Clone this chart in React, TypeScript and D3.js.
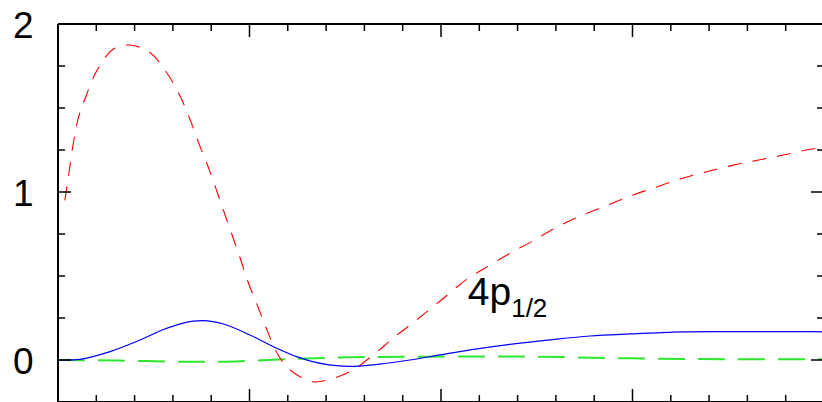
import React from "react";
import * as d3 from "d3";

const redX = [0.18, 0.27, 0.4, 0.53, 0.73, 1.01, 1.44, 1.88, 2.4, 2.84, 3.19, 3.45, 3.71, 3.97, 4.23, 4.49, 4.75, 4.97, 5.23, 5.49, 5.75, 5.97, 6.32, 6.67, 7.02, 7.62, 8.23, 8.75, 9.37, 9.97, 10.67, 11.24, 11.8, 12.41, 13.02, 13.67, 14.33, 14.98, 15.63, 16.28, 16.94, 17.63, 18.29, 18.94, 19.63, 20.0];
const redY = [0.95, 1.09, 1.29, 1.44, 1.57, 1.72, 1.85, 1.875, 1.83, 1.71, 1.57, 1.43, 1.27, 1.12, 0.95, 0.78, 0.61, 0.46, 0.31, 0.16, 0.03, -0.04, -0.1, -0.13, -0.12, -0.07, 0.03, 0.13, 0.24, 0.35, 0.48, 0.56, 0.635, 0.71, 0.79, 0.86, 0.92, 0.98, 1.03, 1.08, 1.12, 1.16, 1.19, 1.22, 1.254, 1.267];

const blueX = [0, 0.57, 1.36, 2.05, 2.74, 3.27, 3.79, 4.32, 5.01, 5.71, 6.23, 6.76, 7.28, 7.62, 8.41, 9.19, 9.97, 10.76, 11.8, 12.85, 13.89, 14.93, 16.3, 17.4, 18.6, 19.7, 20.0];
const blueY = [0, 0.004, 0.05, 0.11, 0.18, 0.22, 0.234, 0.214, 0.149, 0.07, 0.02, -0.016, -0.034, -0.038, -0.024, 0, 0.03, 0.06, 0.093, 0.12, 0.143, 0.155, 0.167, 0.169, 0.169, 0.169, 0.167];

const greenX = [0, 1.5, 3.27, 4.41, 5.88, 7.62, 9.71, 12.32, 14.93, 17.5, 20.0];
const greenY = [0, -0.003, -0.01, -0.01, 0.004, 0.016, 0.02, 0.02, 0.01, 0.005, 0.004];

const yTickLabels = ["0", "1", "2"];
const labelMain = "4p";
const labelSub = "1/2";

const W = 822;
const H = 402;
const FONT = "'Liberation Sans', Arial, Helvetica, sans-serif";

export default function App() {
  const x = d3.scaleLinear().domain([0, 20]).range([58, 824]);
  const y = d3.scaleLinear().domain([-0.25, 2]).range([402, 24]);

  const line = d3
    .line<[number, number]>()
    .x((d) => x(d[0]))
    .y((d) => y(d[1]))
    .curve(d3.curveCatmullRom.alpha(0.5));

  const red = line(redX.map((v, i) => [v, redY[i]] as [number, number])) || "";
  const blue = line(blueX.map((v, i) => [v, blueY[i]] as [number, number])) || "";
  const green = line(greenX.map((v, i) => [v, greenY[i]] as [number, number])) || "";

  const xTicks = d3.range(0, 21, 1);
  const yTicks = d3.range(-0.25, 2.001, 0.25);

  const x0 = x(0), x1 = x(20), y0 = y(-0.25), y1 = y(2);

  return (
    <svg
      width={W}
      height={H}
      style={{ position: "absolute", left: 0, top: 0, background: "#fff" }}
    >
      <defs>
        <clipPath id="plot">
          <rect x={x0} y={y1} width={x1 - x0} height={y0 - y1} />
        </clipPath>
      </defs>
      <g clipPath="url(#plot)" fill="none">
        <path d={green} stroke="#2ee62e" strokeWidth={2} strokeDasharray="27 13" />
        <path d={red} stroke="#ff0000" strokeWidth={1.1} strokeDasharray="14 11" />
        <path d={blue} stroke="#0000ff" strokeWidth={1.2} />
      </g>
      <g stroke="#000" fill="none">
        <line x1={x0} x2={x0} y1={y1} y2={y0} strokeWidth={2} />
        <line x1={x0} x2={x1} y1={y1} y2={y1} strokeWidth={2} />
        <line x1={x1} x2={x1} y1={y1} y2={y0} strokeWidth={2} />
        <line x1={x0} x2={x1} y1={y0} y2={y0} strokeWidth={2} />
        {xTicks.map((t) => {
          const len = t % 5 === 0 ? 13 : 7;
          return (
            <g key={"xt" + t}>
              <line x1={x(t)} x2={x(t)} y1={y1} y2={y1 + len} strokeWidth={1.5} />
              <line x1={x(t)} x2={x(t)} y1={y0} y2={y0 - len} strokeWidth={1.5} />
            </g>
          );
        })}
        {yTicks.map((t, i) => {
          const major = Math.abs(t - Math.round(t)) < 1e-6;
          const len = major ? 13 : 7;
          return (
            <g key={"yt" + i}>
              <line x1={x0} x2={x0 + len} y1={y(t)} y2={y(t)} strokeWidth={1.5} />
              <line x1={x1} x2={x1 - len} y1={y(t)} y2={y(t)} strokeWidth={1.5} />
            </g>
          );
        })}
      </g>
      <g fontFamily={FONT} fontSize={37} fill="#000" textAnchor="end">
        {yTickLabels.map((l) => (
          <text key={l} x={33.5} y={y(+l) + 13.5}>
            {l}
          </text>
        ))}
      </g>
      <text x={x(10.7)} y={y(0.33)} fontFamily={FONT} fontSize={39} fill="#000">
        {labelMain}
        <tspan fontSize={26} dy={12}>
          {labelSub}
        </tspan>
      </text>
    </svg>
  );
}
